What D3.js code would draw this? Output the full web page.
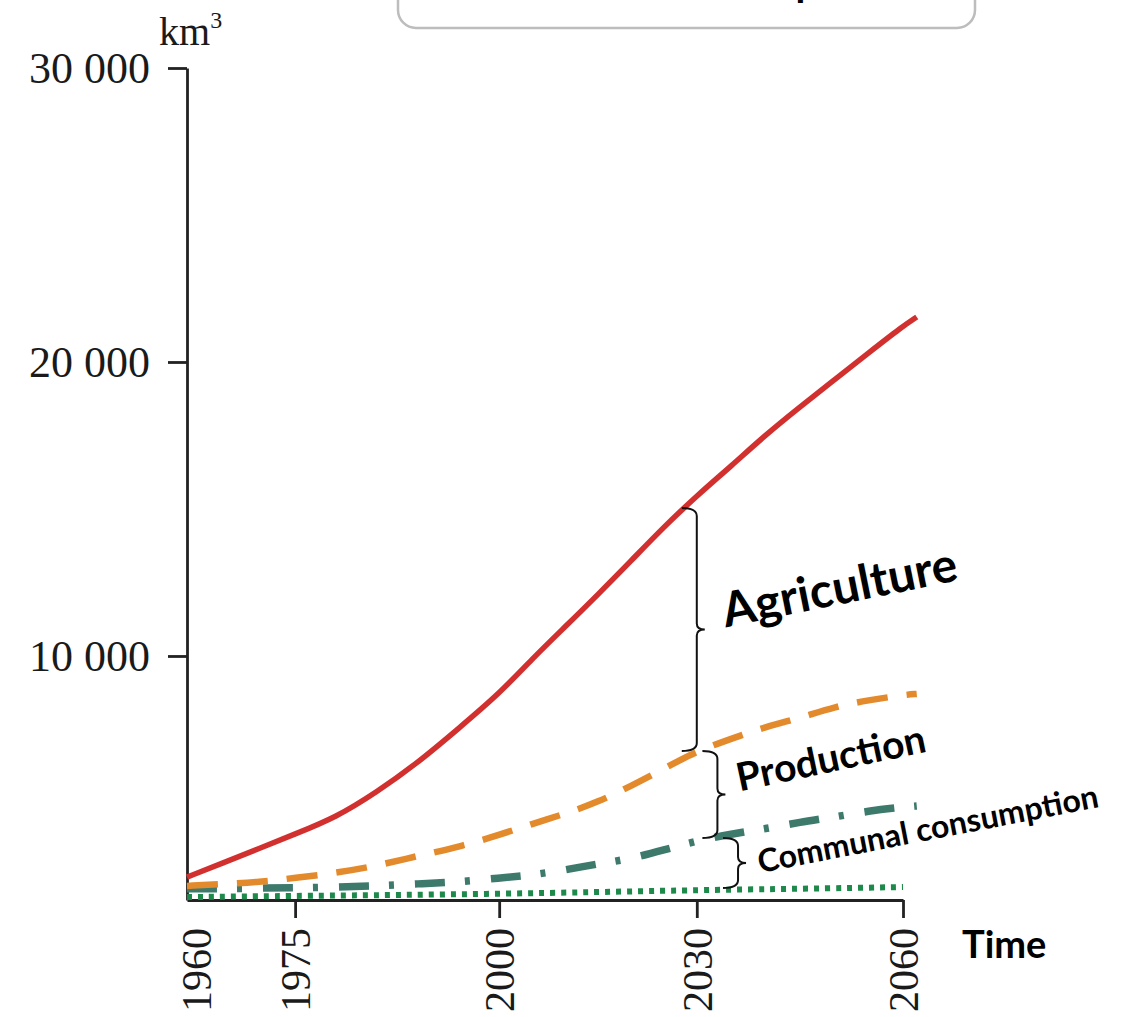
<!DOCTYPE html>
<html>
<head>
<meta charset="utf-8">
<script src="https://cdn.jsdelivr.net/npm/d3@7"></script>
<style>
  body { margin: 0; background: #fff; }
</style>
</head>
<body>
<script>
// values, km3 per year (each line is a running total)
var years = [1960, 1965, 1970, 1975, 1980, 1985, 1990, 1995, 2000, 2005, 2010,
             2015, 2020, 2025, 2030, 2035, 2040, 2045, 2050, 2055, 2060, 2062];
var total = [2480, 2960, 3450, 3945, 4510, 5370, 6360, 7530, 8710, 9900, 10990,
             12090, 13230, 14390, 15450, 16460, 17520, 18470, 19390, 20310, 21220, 21530];
var withoutAgriculture = [2180, 2245, 2310, 2450, 2620, 2860, 3200, 3500, 3910, 4290, 4630,
                          5030, 5580, 6160, 6770, 7180, 7590, 7890, 8270, 8500, 8670, 8710];
var withoutProduction = [2080, 2080, 2110, 2110, 2140, 2180, 2250, 2310, 2450, 2550, 2720,
                         2930, 3100, 3400, 3710, 3950, 4120, 4350, 4520, 4730, 4860, 4900];
var baseYears = [1960, 1975, 2000, 2030, 2045, 2060];
var baseLine = [1800, 1840, 1900, 2040, 2080, 2140];

var xTicks = [1960, 1975, 2000, 2030, 2060];
var yTicks = [10000, 20000, 30000];
var yTickLabels = ["10 000", "20 000", "30 000"];

// braces between the lines
var braceLabels = ["Agriculture", "Production", "Communal consumption"];
var braceYears = [2030, 2033, 2036];
var braceTop = [15030, 6770, 3810];
var braceBottom = [6770, 3810, 2110];

var w = 1128;
var h = 1017;

var svg = d3.select("body").append("svg")
    .attr("width", w)
    .attr("height", h);

// the time axis in the original is not evenly spaced
var left = 187, plotW = 716;
var x = d3.scaleLinear()
    .domain(xTicks)
    .range([0, 0.151, 0.436, 0.712, 1].map(function (f) { return left + f * plotW; }));

var y = d3.scaleLinear()
    .domain([1700, 30000])
    .range([900, 68]);

// title box, cut off by the top edge
svg.append("rect")
    .attr("x", 398).attr("y", -30)
    .attr("width", 577).attr("height", 58)
    .attr("rx", 18)
    .attr("fill", "#fff")
    .attr("stroke", "#bdbdbd")
    .attr("stroke-width", 2.5);
svg.append("text")
    .attr("x", 538).attr("y", -4)
    .attr("font-family", "Lato")
    .attr("font-weight", 700)
    .attr("font-size", 40)
    .attr("fill", "#000")
    .text("Water consumption");

// axes
var yAxis = d3.axisLeft(y)
    .tickValues(yTicks)
    .tickFormat(function (d, i) { return yTickLabels[i]; })
    .tickSize(19)
    .tickSizeOuter(0)
    .tickPadding(18);

var gy = svg.append("g")
    .attr("transform", "translate(" + left + ",0)")
    .call(yAxis);

var xAxis = d3.axisBottom(x)
    .tickValues(xTicks)
    .tickFormat(d3.format("d"))
    .tickSize(18)
    .tickSizeOuter(0);

var gx = svg.append("g")
    .attr("transform", "translate(0," + y(1700) + ")")
    .call(xAxis);

[gx, gy].forEach(function (g) {
    g.select(".domain").attr("stroke", "#222").attr("stroke-width", 2.8);
    g.selectAll(".tick line").attr("stroke", "#222").attr("stroke-width", 2.8);
    g.selectAll("text")
        .attr("font-family", "Liberation Serif")
        .attr("fill", "#1a1a1a");
});
gy.selectAll("text").attr("font-size", 44).attr("dy", "0.32em");

gx.selectAll(".tick line").filter(function (d) { return d === 1960; }).remove();
gx.selectAll("text")
    .attr("font-size", 42)
    .attr("transform", function (d) { return d === 1960 ? "translate(9,0) rotate(-90)" : "rotate(-90)"; })
    .attr("x", -28)
    .attr("y", 0)
    .attr("dy", "0.35em")
    .attr("text-anchor", "end");

// unit
var unit = svg.append("text")
    .attr("x", 159).attr("y", 45)
    .attr("font-family", "Liberation Serif")
    .attr("font-size", 40)
    .attr("fill", "#1a1a1a")
    .text("km");
unit.append("tspan")
    .attr("font-size", 24)
    .attr("dy", -17)
    .text("3");

svg.append("text")
    .attr("x", 962).attr("y", 958)
    .attr("font-family", "Lato")
    .attr("font-weight", 700)
    .attr("font-size", 38)
    .attr("fill", "#000")
    .text("Time");

// lines
var line = d3.line()
    .x(function (d) { return x(d[0]); })
    .y(function (d) { return y(d[1]); })
    .curve(d3.curveBasis);

var series = [
    { yrs: baseYears, vals: baseLine, color: "#1d8a4b", width: 6, dash: "5,6" },
    { yrs: years, vals: withoutProduction, color: "#3d7a6c", width: 7.5, dash: "30,20,5,21" },
    { yrs: years, vals: withoutAgriculture, color: "#e38b2c", width: 6.5, dash: "31,19" },
    { yrs: years, vals: total, color: "#d2302f", width: 5.5, dash: null }
];

svg.selectAll("path.series").data(series).enter().append("path")
    .attr("class", "series")
    .attr("d", function (s) { return line(d3.zip(s.yrs, s.vals)); })
    .attr("fill", "none")
    .attr("stroke", function (s) { return s.color; })
    .attr("stroke-width", function (s) { return s.width; })
    .attr("stroke-dasharray", function (s) { return s.dash; });

// braces and their labels
function brace(bx, y0, y1) {
    var ym = (y0 + y1) / 2, hw = 15;
    return "M" + (bx - hw) + "," + y0 +
        " Q" + bx + "," + y0 + " " + bx + "," + (y0 + 8) +
        " L" + bx + "," + (ym - 6) +
        " Q" + bx + "," + ym + " " + (bx + 8) + "," + ym +
        " Q" + bx + "," + ym + " " + bx + "," + (ym + 6) +
        " L" + bx + "," + (y1 - 8) +
        " Q" + bx + "," + y1 + " " + (bx - hw) + "," + y1;
}

var labelStyle = [
    { size: 48, dx: 21, dy: -2, angle: -11.5 },
    { size: 39, dx: 14, dy: -3, angle: -12 },
    { size: 32, dx: 14, dy: 10, angle: -11 }
];

braceLabels.forEach(function (label, i) {
    var bx = x(braceYears[i]);
    var y0 = y(braceTop[i]), y1 = y(braceBottom[i]);
    var ym = (y0 + y1) / 2;
    svg.append("path")
        .attr("d", brace(bx, y0, y1))
        .attr("fill", "none")
        .attr("stroke", "#111")
        .attr("stroke-width", 2);
    var st = labelStyle[i];
    var lx = bx + 8 + st.dx, ly = ym + st.dy;
    svg.append("text")
        .attr("transform", "translate(" + lx + "," + ly + ") rotate(" + st.angle + ")")
        .attr("font-family", "Lato")
        .attr("font-weight", 700)
        .attr("font-size", st.size)
        .attr("fill", "#000")
        .text(label);
});
</script>
</body>
</html>
